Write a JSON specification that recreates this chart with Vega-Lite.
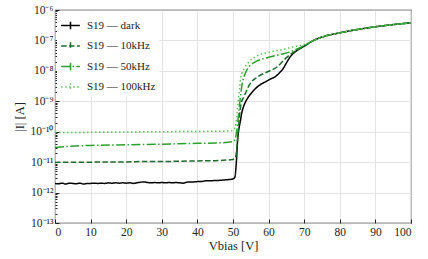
{
  "$schema": "https://vega.github.io/schema/vega-lite/v6.json",
  "width": 356,
  "height": 213,
  "autosize": {"type": "none"},
  "padding": {"left": 55, "top": 10, "right": 17, "bottom": 36},
  "config": {
    "font": "Liberation Serif",
    "view": {"stroke": "#222222", "strokeWidth": 1.1},
    "axis": {"labelFont": "Liberation Serif", "titleFont": "Liberation Serif", "labelColor": "#222", "titleColor": "#222", "labelFontSize": 11.5, "titleFontSize": 12.5, "titleFontWeight": "normal", "domain": false, "tickColor": "#222", "gridColor": "#dddddd", "gridWidth": 0.8},
    "legend": {"labelFont": "Liberation Serif"}
  },
  "data": {"values": [
    {"s": "S19 — dark", "v": 0, "i": 2.00e-12},
    {"s": "S19 — dark", "v": 1, "i": 1.95e-12},
    {"s": "S19 — dark", "v": 2, "i": 2.04e-12},
    {"s": "S19 — dark", "v": 3, "i": 1.91e-12},
    {"s": "S19 — dark", "v": 4, "i": 2.04e-12},
    {"s": "S19 — dark", "v": 5, "i": 2.00e-12},
    {"s": "S19 — dark", "v": 6, "i": 1.95e-12},
    {"s": "S19 — dark", "v": 7, "i": 2.04e-12},
    {"s": "S19 — dark", "v": 8, "i": 1.91e-12},
    {"s": "S19 — dark", "v": 9, "i": 2.00e-12},
    {"s": "S19 — dark", "v": 10, "i": 2.00e-12},
    {"s": "S19 — dark", "v": 11, "i": 2.04e-12},
    {"s": "S19 — dark", "v": 12, "i": 2.00e-12},
    {"s": "S19 — dark", "v": 13, "i": 2.04e-12},
    {"s": "S19 — dark", "v": 14, "i": 2.00e-12},
    {"s": "S19 — dark", "v": 15, "i": 2.09e-12},
    {"s": "S19 — dark", "v": 16, "i": 2.04e-12},
    {"s": "S19 — dark", "v": 17, "i": 2.09e-12},
    {"s": "S19 — dark", "v": 18, "i": 2.04e-12},
    {"s": "S19 — dark", "v": 19, "i": 2.09e-12},
    {"s": "S19 — dark", "v": 20, "i": 2.04e-12},
    {"s": "S19 — dark", "v": 21, "i": 2.09e-12},
    {"s": "S19 — dark", "v": 22, "i": 2.00e-12},
    {"s": "S19 — dark", "v": 23, "i": 2.09e-12},
    {"s": "S19 — dark", "v": 24, "i": 2.19e-12},
    {"s": "S19 — dark", "v": 25, "i": 2.24e-12},
    {"s": "S19 — dark", "v": 26, "i": 2.14e-12},
    {"s": "S19 — dark", "v": 27, "i": 2.09e-12},
    {"s": "S19 — dark", "v": 28, "i": 2.14e-12},
    {"s": "S19 — dark", "v": 29, "i": 2.09e-12},
    {"s": "S19 — dark", "v": 30, "i": 2.14e-12},
    {"s": "S19 — dark", "v": 31, "i": 2.09e-12},
    {"s": "S19 — dark", "v": 32, "i": 2.14e-12},
    {"s": "S19 — dark", "v": 33, "i": 2.09e-12},
    {"s": "S19 — dark", "v": 34, "i": 2.14e-12},
    {"s": "S19 — dark", "v": 35, "i": 2.09e-12},
    {"s": "S19 — dark", "v": 36, "i": 2.04e-12},
    {"s": "S19 — dark", "v": 37, "i": 2.19e-12},
    {"s": "S19 — dark", "v": 38, "i": 2.24e-12},
    {"s": "S19 — dark", "v": 39, "i": 2.24e-12},
    {"s": "S19 — dark", "v": 40, "i": 2.29e-12},
    {"s": "S19 — dark", "v": 41, "i": 2.29e-12},
    {"s": "S19 — dark", "v": 42, "i": 2.40e-12},
    {"s": "S19 — dark", "v": 43, "i": 2.45e-12},
    {"s": "S19 — dark", "v": 44, "i": 2.45e-12},
    {"s": "S19 — dark", "v": 45, "i": 2.51e-12},
    {"s": "S19 — dark", "v": 46, "i": 2.51e-12},
    {"s": "S19 — dark", "v": 47, "i": 2.57e-12},
    {"s": "S19 — dark", "v": 48, "i": 2.63e-12},
    {"s": "S19 — dark", "v": 49, "i": 2.69e-12},
    {"s": "S19 — dark", "v": 50, "i": 2.82e-12},
    {"s": "S19 — dark", "v": 50.5, "i": 3.16e-12},
    {"s": "S19 — dark", "v": 51, "i": 1.26e-11},
    {"s": "S19 — dark", "v": 51.3, "i": 5.37e-11},
    {"s": "S19 — dark", "v": 51.6, "i": 1.12e-10},
    {"s": "S19 — dark", "v": 52, "i": 2.0e-10},
    {"s": "S19 — dark", "v": 52.5, "i": 4.37e-10},
    {"s": "S19 — dark", "v": 53, "i": 6.92e-10},
    {"s": "S19 — dark", "v": 53.6, "i": 1.0e-9},
    {"s": "S19 — dark", "v": 54.3, "i": 1.38e-9},
    {"s": "S19 — dark", "v": 55.1, "i": 1.82e-9},
    {"s": "S19 — dark", "v": 56, "i": 2.40e-9},
    {"s": "S19 — dark", "v": 57, "i": 3.09e-9},
    {"s": "S19 — dark", "v": 58, "i": 3.72e-9},
    {"s": "S19 — dark", "v": 59.3, "i": 4.47e-9},
    {"s": "S19 — dark", "v": 60.5, "i": 5.37e-9},
    {"s": "S19 — dark", "v": 62, "i": 6.61e-9},
    {"s": "S19 — dark", "v": 63, "i": 8.51e-9},
    {"s": "S19 — dark", "v": 64, "i": 1.15e-8},
    {"s": "S19 — dark", "v": 65, "i": 1.82e-8},
    {"s": "S19 — dark", "v": 66, "i": 2.82e-8},
    {"s": "S19 — dark", "v": 67, "i": 3.80e-8},
    {"s": "S19 — dark", "v": 68, "i": 4.68e-8},
    {"s": "S19 — dark", "v": 70, "i": 6.46e-8},
    {"s": "S19 — dark", "v": 72, "i": 9.12e-8},
    {"s": "S19 — dark", "v": 75, "i": 1.29e-7},
    {"s": "S19 — dark", "v": 80, "i": 1.78e-7},
    {"s": "S19 — dark", "v": 85, "i": 2.29e-7},
    {"s": "S19 — dark", "v": 90, "i": 2.82e-7},
    {"s": "S19 — dark", "v": 95, "i": 3.31e-7},
    {"s": "S19 — dark", "v": 100, "i": 3.80e-7},

    {"s": "S19 — 10kHz", "v": 0, "i": 9.77e-12},
    {"s": "S19 — 10kHz", "v": 5, "i": 1.0e-11},
    {"s": "S19 — 10kHz", "v": 10, "i": 1.0e-11},
    {"s": "S19 — 10kHz", "v": 15, "i": 1.02e-11},
    {"s": "S19 — 10kHz", "v": 20, "i": 1.02e-11},
    {"s": "S19 — 10kHz", "v": 25, "i": 1.05e-11},
    {"s": "S19 — 10kHz", "v": 30, "i": 1.05e-11},
    {"s": "S19 — 10kHz", "v": 35, "i": 1.07e-11},
    {"s": "S19 — 10kHz", "v": 40, "i": 1.10e-11},
    {"s": "S19 — 10kHz", "v": 45, "i": 1.12e-11},
    {"s": "S19 — 10kHz", "v": 48, "i": 1.17e-11},
    {"s": "S19 — 10kHz", "v": 50, "i": 1.23e-11},
    {"s": "S19 — 10kHz", "v": 50.7, "i": 1.41e-11},
    {"s": "S19 — 10kHz", "v": 51.1, "i": 3.24e-11},
    {"s": "S19 — 10kHz", "v": 51.4, "i": 8.91e-11},
    {"s": "S19 — 10kHz", "v": 51.8, "i": 3.16e-10},
    {"s": "S19 — 10kHz", "v": 52.2, "i": 7.59e-10},
    {"s": "S19 — 10kHz", "v": 53.2, "i": 1.51e-9},
    {"s": "S19 — 10kHz", "v": 54.6, "i": 3.47e-9},
    {"s": "S19 — 10kHz", "v": 56.9, "i": 6.31e-9},
    {"s": "S19 — 10kHz", "v": 59.7, "i": 9.33e-9},
    {"s": "S19 — 10kHz", "v": 62.5, "i": 1.38e-8},
    {"s": "S19 — 10kHz", "v": 64.4, "i": 2.34e-8},
    {"s": "S19 — 10kHz", "v": 66, "i": 3.39e-8},
    {"s": "S19 — 10kHz", "v": 68, "i": 4.79e-8},
    {"s": "S19 — 10kHz", "v": 70, "i": 6.46e-8},
    {"s": "S19 — 10kHz", "v": 72, "i": 9.12e-8},
    {"s": "S19 — 10kHz", "v": 75, "i": 1.29e-7},
    {"s": "S19 — 10kHz", "v": 80, "i": 1.78e-7},
    {"s": "S19 — 10kHz", "v": 85, "i": 2.29e-7},
    {"s": "S19 — 10kHz", "v": 90, "i": 2.82e-7},
    {"s": "S19 — 10kHz", "v": 95, "i": 3.31e-7},
    {"s": "S19 — 10kHz", "v": 100, "i": 3.80e-7},

    {"s": "S19 — 50kHz", "v": 0, "i": 3.02e-11},
    {"s": "S19 — 50kHz", "v": 3, "i": 3.24e-11},
    {"s": "S19 — 50kHz", "v": 6, "i": 3.39e-11},
    {"s": "S19 — 50kHz", "v": 10, "i": 3.55e-11},
    {"s": "S19 — 50kHz", "v": 20, "i": 3.72e-11},
    {"s": "S19 — 50kHz", "v": 30, "i": 3.89e-11},
    {"s": "S19 — 50kHz", "v": 40, "i": 4.17e-11},
    {"s": "S19 — 50kHz", "v": 45, "i": 4.27e-11},
    {"s": "S19 — 50kHz", "v": 50, "i": 4.68e-11},
    {"s": "S19 — 50kHz", "v": 50.6, "i": 5.62e-11},
    {"s": "S19 — 50kHz", "v": 51.0, "i": 1.0e-10},
    {"s": "S19 — 50kHz", "v": 51.3, "i": 1.91e-10},
    {"s": "S19 — 50kHz", "v": 51.8, "i": 6.76e-10},
    {"s": "S19 — 50kHz", "v": 52.2, "i": 1.86e-9},
    {"s": "S19 — 50kHz", "v": 52.7, "i": 4.47e-9},
    {"s": "S19 — 50kHz", "v": 53.2, "i": 7.08e-9},
    {"s": "S19 — 50kHz", "v": 54.1, "i": 1.17e-8},
    {"s": "S19 — 50kHz", "v": 56.5, "i": 2.04e-8},
    {"s": "S19 — 50kHz", "v": 59.3, "i": 2.63e-8},
    {"s": "S19 — 50kHz", "v": 63, "i": 3.39e-8},
    {"s": "S19 — 50kHz", "v": 66, "i": 4.17e-8},
    {"s": "S19 — 50kHz", "v": 68, "i": 5.25e-8},
    {"s": "S19 — 50kHz", "v": 70, "i": 6.76e-8},
    {"s": "S19 — 50kHz", "v": 72, "i": 9.12e-8},
    {"s": "S19 — 50kHz", "v": 75, "i": 1.29e-7},
    {"s": "S19 — 50kHz", "v": 80, "i": 1.78e-7},
    {"s": "S19 — 50kHz", "v": 85, "i": 2.29e-7},
    {"s": "S19 — 50kHz", "v": 90, "i": 2.82e-7},
    {"s": "S19 — 50kHz", "v": 95, "i": 3.31e-7},
    {"s": "S19 — 50kHz", "v": 100, "i": 3.80e-7},

    {"s": "S19 — 100kHz", "v": 0, "i": 9.33e-11},
    {"s": "S19 — 100kHz", "v": 10, "i": 9.55e-11},
    {"s": "S19 — 100kHz", "v": 20, "i": 9.77e-11},
    {"s": "S19 — 100kHz", "v": 30, "i": 1.0e-10},
    {"s": "S19 — 100kHz", "v": 40, "i": 1.02e-10},
    {"s": "S19 — 100kHz", "v": 48, "i": 1.05e-10},
    {"s": "S19 — 100kHz", "v": 50, "i": 1.10e-10},
    {"s": "S19 — 100kHz", "v": 50.6, "i": 1.41e-10},
    {"s": "S19 — 100kHz", "v": 51.0, "i": 2.82e-10},
    {"s": "S19 — 100kHz", "v": 51.3, "i": 6.76e-10},
    {"s": "S19 — 100kHz", "v": 51.8, "i": 2.40e-9},
    {"s": "S19 — 100kHz", "v": 52.2, "i": 6.31e-9},
    {"s": "S19 — 100kHz", "v": 53.2, "i": 1.20e-8},
    {"s": "S19 — 100kHz", "v": 54.6, "i": 2.04e-8},
    {"s": "S19 — 100kHz", "v": 56.9, "i": 3.16e-8},
    {"s": "S19 — 100kHz", "v": 60.2, "i": 4.07e-8},
    {"s": "S19 — 100kHz", "v": 63.9, "i": 5.01e-8},
    {"s": "S19 — 100kHz", "v": 67.7, "i": 6.46e-8},
    {"s": "S19 — 100kHz", "v": 70, "i": 7.41e-8},
    {"s": "S19 — 100kHz", "v": 72, "i": 9.12e-8},
    {"s": "S19 — 100kHz", "v": 75, "i": 1.29e-7},
    {"s": "S19 — 100kHz", "v": 80, "i": 1.78e-7},
    {"s": "S19 — 100kHz", "v": 85, "i": 2.29e-7},
    {"s": "S19 — 100kHz", "v": 90, "i": 2.82e-7},
    {"s": "S19 — 100kHz", "v": 95, "i": 3.31e-7},
    {"s": "S19 — 100kHz", "v": 100, "i": 3.80e-7}
  ]},
  "mark": {"type": "line", "strokeWidth": 1.5, "interpolate": "monotone", "clip": true},
  "encoding": {
    "x": {
      "field": "v", "type": "quantitative",
      "scale": {"domain": [0, 100], "nice": false, "zero": false},
      "axis": {"values": [0, 10, 20, 30, 40, 50, 60, 70, 80, 90, 100], "tickSize": -4, "labelPadding": 7, "title": "Vbias [V]", "titlePadding": 2}
    },
    "y": {
      "field": "i", "type": "quantitative",
      "scale": {"type": "log", "domain": [1e-13, 1e-6], "nice": false},
      "axis": {
        "values": [1e-13, 2e-13, 3e-13, 4e-13, 5e-13, 6e-13, 7e-13, 8e-13, 9e-13,
                   1e-12, 2e-12, 3e-12, 4e-12, 5e-12, 6e-12, 7e-12, 8e-12, 9e-12,
                   1e-11, 2e-11, 3e-11, 4e-11, 5e-11, 6e-11, 7e-11, 8e-11, 9e-11,
                   1e-10, 2e-10, 3e-10, 4e-10, 5e-10, 6e-10, 7e-10, 8e-10, 9e-10,
                   1e-9, 2e-9, 3e-9, 4e-9, 5e-9, 6e-9, 7e-9, 8e-9, 9e-9,
                   1e-8, 2e-8, 3e-8, 4e-8, 5e-8, 6e-8, 7e-8, 8e-8, 9e-8,
                   1e-7, 2e-7, 3e-7, 4e-7, 5e-7, 6e-7, 7e-7, 8e-7, 9e-7, 1e-6],
        "labelExpr": "abs(log(datum.value)/LN10 - round(log(datum.value)/LN10)) < 0.01 ? '10' + ['⁰','⁻¹','⁻²','⁻³','⁻⁴','⁻⁵','⁻⁶','⁻⁷','⁻⁸','⁻⁹','⁻¹⁰','⁻¹¹','⁻¹²','⁻¹³'][-round(log(datum.value)/LN10)] : ''",
        "tickSize": {"condition": {"test": "abs(log(datum.value)/LN10 - round(log(datum.value)/LN10)) < 0.01", "value": -4}, "value": -2},
        "gridOpacity": {"condition": {"test": "abs(log(datum.value)/LN10 - round(log(datum.value)/LN10)) < 0.01", "value": 1}, "value": 0},
        "labelPadding": 6,
        "title": "|I| [A]",
        "titlePadding": 4
      }
    },
    "color": {
      "field": "s", "type": "nominal",
      "scale": {"domain": ["S19 — dark", "S19 — 10kHz", "S19 — 50kHz", "S19 — 100kHz"], "range": ["#000000", "#1b6b2a", "#2ca02c", "#5fbf5f"]},
      "legend": {
        "title": null, "orient": "top-left", "offset": 2, "padding": 3,
        "fillColor": "white", "labelFont": "Liberation Serif", "labelFontSize": 11, "labelColor": "#222",
        "symbolType": "M-1,0H1M0,-0.4V0.4", "symbolSize": 350, "symbolStrokeWidth": 1.5, "rowPadding": 2.5, "labelOffset": 6
      }
    },
    "strokeDash": {
      "field": "s", "type": "nominal",
      "scale": {"domain": ["S19 — dark", "S19 — 10kHz", "S19 — 50kHz", "S19 — 100kHz"], "range": [[1, 0], [5.5, 2.4], [9, 2.4, 1.5, 2.4], [1.5, 2.5]]},
      "legend": null
    }
  }
}
